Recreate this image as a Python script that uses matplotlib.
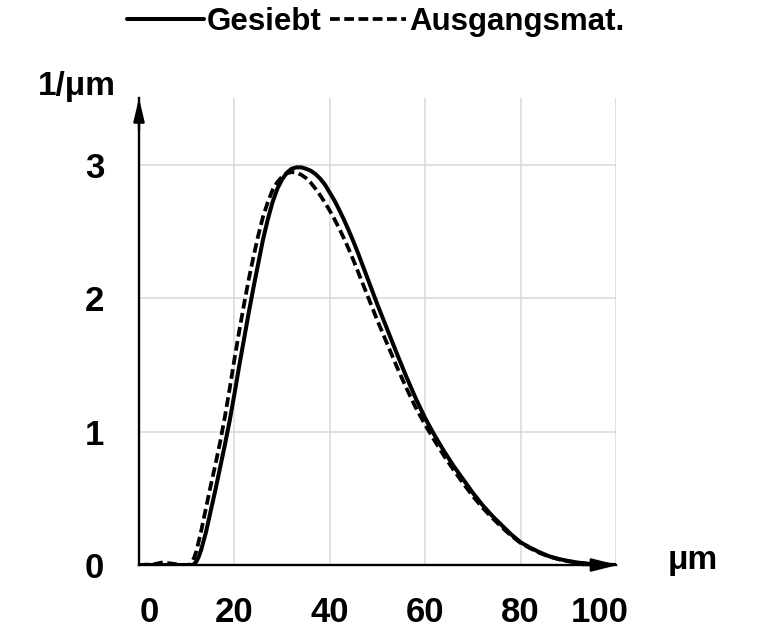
import matplotlib
matplotlib.use("Agg")
import matplotlib.pyplot as plt
from matplotlib.transforms import ScaledTranslation

plt.rcParams['font.family'] = ['Liberation Sans', 'DejaVu Sans']
plt.rcParams['font.weight'] = 'bold'

# Gesiebt (solid)
x_gesiebt = [0, 5, 10, 11, 11.5, 12, 12.5, 13, 14, 15, 16, 17, 18, 19, 20, 21, 22, 23, 24,
             25, 26, 27, 28, 29, 30, 31, 32, 33, 34, 35, 36, 37, 38, 39, 40, 41, 42, 43,
             44, 45, 46, 47, 48, 49, 50, 51, 52, 54, 56, 58, 60, 62, 64, 66, 68, 70, 72,
             74, 76, 78, 80, 82, 84, 86, 88, 90, 92, 94, 96, 100]
y_gesiebt = [0, 0, 0, 0, 0.005, 0.025, 0.06, 0.11, 0.24, 0.40, 0.56, 0.73, 0.90, 1.08,
             1.28, 1.49, 1.69, 1.89, 2.08, 2.26, 2.44, 2.59, 2.72, 2.82, 2.89, 2.94, 2.97,
             2.98, 2.98, 2.97, 2.955, 2.93, 2.895, 2.85, 2.79, 2.73, 2.66, 2.585, 2.505,
             2.42, 2.33, 2.235, 2.14, 2.045, 1.95, 1.86, 1.77, 1.59, 1.415, 1.25, 1.10,
             0.97, 0.85, 0.74, 0.64, 0.54, 0.45, 0.37, 0.30, 0.23, 0.17, 0.13, 0.095,
             0.065, 0.045, 0.03, 0.018, 0.01, 0.004, 0]

# Ausgangsmaterial (dashed)
x_ausgang = [0, 3, 5, 7, 9, 10.5, 11, 11.5, 12, 13, 14, 15, 16, 17, 18, 19, 20, 21, 22,
             23, 24, 25, 26, 27, 28, 29, 30, 31, 32, 33, 34, 35, 36, 37, 38, 39, 40, 41,
             42, 43, 44, 45, 46, 47, 48, 49, 50, 52, 54, 56, 58, 60, 62, 64, 66, 68, 70,
             72, 74, 76, 78, 80, 82, 84, 86, 88, 90, 92, 94, 96, 100]
y_ausgang = [0, 0.005, 0.02, 0.01, 0, 0, 0.02, 0.05, 0.10, 0.25, 0.42, 0.59, 0.75, 0.92,
             1.11, 1.32, 1.54, 1.75, 1.95, 2.14, 2.31, 2.47, 2.61, 2.72, 2.81, 2.87, 2.91,
             2.935, 2.945, 2.94, 2.925, 2.90, 2.865, 2.82, 2.77, 2.715, 2.655, 2.59, 2.52,
             2.445, 2.365, 2.28, 2.19, 2.10, 2.01, 1.92, 1.83, 1.66, 1.49, 1.33, 1.18,
             1.05, 0.93, 0.815, 0.71, 0.61, 0.515, 0.43, 0.355, 0.285, 0.22, 0.165, 0.125,
             0.09, 0.063, 0.043, 0.028, 0.017, 0.009, 0.004, 0]

x_ticks = [0, 20, 40, 60, 80, 100]
x_ticklabels = ['0', '20', '40', '60', '80', '100']
y_ticks = [0, 1, 2, 3]
y_ticklabels = ['0', '1', '2', '3']
series_labels = ['Gesiebt', 'Ausgangsmat.']

W, H = 761, 629
fig = plt.figure(figsize=(W / 100, H / 100), dpi=100)
ax = fig.add_axes([139 / W, 1 - 565 / H, 477 / W, (565 - 98) / H])
ax.set_xlim(0, 100)
ax.set_ylim(0, 3.5)

ax.grid(True, color='#d9d9d9', lw=1.1)
ax.set_axisbelow(True)
for s in ['top', 'right']:
    ax.spines[s].set_visible(False)
for s in ['left', 'bottom']:
    ax.spines[s].set_linewidth(1.7)
    ax.spines[s].set_zorder(3)

l1, = ax.plot(x_gesiebt, y_gesiebt, color='black', lw=2.9, label=series_labels[0],
              solid_capstyle='round', solid_joinstyle='round', zorder=5)
l2, = ax.plot(x_ausgang, y_ausgang, color='black', lw=2.7, dashes=(2.6, 1.2),
              label=series_labels[1], zorder=6)

ax.set_xticks(x_ticks)
ax.set_xticklabels(x_ticklabels)
ax.set_yticks(y_ticks)
ax.set_yticklabels(y_ticklabels)
ax.tick_params(length=0, labelsize=25, pad=22)
ax.tick_params(axis='y', pad=25)
for lab in ax.get_xticklabels() + ax.get_yticklabels():
    lab.set_fontweight('bold')

# shift first/last x tick labels
xl = ax.get_xticklabels()
xl[0].set_transform(xl[0].get_transform() + ScaledTranslation(10 / 100, 0, fig.dpi_scale_trans))
xl[-1].set_transform(xl[-1].get_transform() + ScaledTranslation(-16 / 100, 0, fig.dpi_scale_trans))

# arrows
ax.annotate('', xy=(0, 1.0), xycoords='axes fraction', xytext=(0, 0.93),
            arrowprops=dict(arrowstyle='-|>,head_length=1.4,head_width=0.33', color='black',
                            lw=1.7, shrinkA=0, shrinkB=0), annotation_clip=False)
ax.annotate('', xy=(1.004, 0), xycoords='axes fraction', xytext=(0.93, 0),
            arrowprops=dict(arrowstyle='-|>,head_length=1.6,head_width=0.4', color='black',
                            lw=1.7, shrinkA=0, shrinkB=0), annotation_clip=False)

fig.text(38 / W, 1 - 86 / H, '1/μm', fontsize=24, fontweight='bold', ha='left', va='center')
fig.text(668 / W, 1 - 561 / H, 'μm', fontsize=24, fontweight='bold', ha='left', va='center')

fig.legend(handles=[l1, l2], labels=series_labels, loc='center', bbox_to_anchor=(376 / W, 1 - 22 / H),
           ncol=2, frameon=False, prop={'weight': 'bold', 'size': 22.5},
           handlelength=2.45, handletextpad=0.1, columnspacing=0.25, borderpad=0)

fig.savefig('out.png', dpi=100)
